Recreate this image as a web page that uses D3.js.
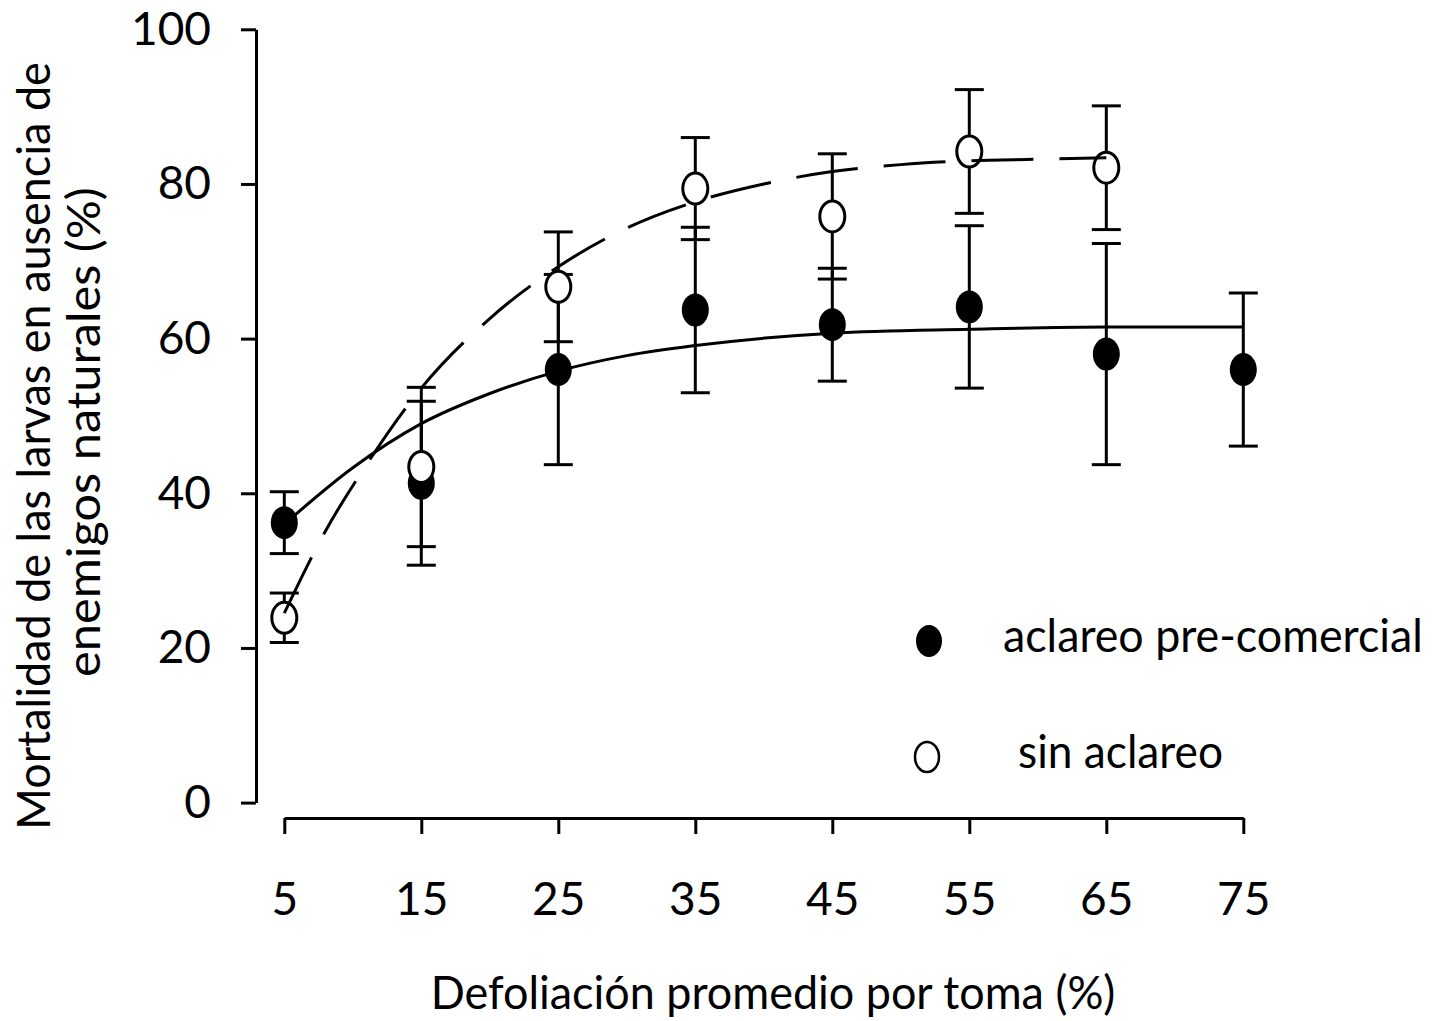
<!DOCTYPE html>
<html>
<head>
<meta charset="utf-8">
<script src="https://cdn.jsdelivr.net/npm/d3@7"></script>
<style>
  html, body { margin: 0; padding: 0; background: #fff; }
  svg { display: block; font-family: Lato, "Open Sans", sans-serif; }
  text { fill: #000; }
</style>
</head>
<body>
<svg id="chart" width="1433" height="1021"></svg>
<script>
// defoliation classes (x) and mean mortality (%) with error (±)
const xVals = [5, 15, 25, 35, 45, 55, 65, 75];
const thinnedMean = [36.2, 41.3, 56.0, 63.7, 61.8, 64.1, 58.0, 56.0];
const thinnedErr = [4.0, 10.6, 12.3, 10.7, 7.3, 10.5, 14.3, 9.9];
const unthinnedX = [5, 15, 25, 35, 45, 55, 65];
const unthinnedMean = [23.9, 43.4, 66.7, 79.4, 75.8, 84.2, 82.1];
const unthinnedErr = [3.2, 10.3, 7.1, 6.6, 8.1, 8.0, 8.0];

// fitted curves
const fitThinnedX = [5, 10, 15, 20, 25, 30, 35, 45, 55, 65, 75];
const fitThinnedY = [36.0, 43.3, 49.0, 52.9, 55.8, 57.8, 59.1, 60.7, 61.2, 61.5, 61.5];
const fitUnthinnedX = [5, 8, 11, 15, 20, 25, 30, 35, 40, 45, 50, 55, 60, 65];
const fitUnthinnedY = [24.5, 35.1, 43.7, 53.6, 62.6, 69.3, 74.3, 77.7, 80.0, 81.6, 82.5, 83.0, 83.2, 83.4];

const yTicks = [0, 20, 40, 60, 80, 100];
const legendLabels = ["aclareo pre-comercial", "sin aclareo"];

const svg = d3.select("#chart");
const x = d3.scaleLinear().domain([5, 75]).range([284.3, 1243.3]);
const y = d3.scaleLinear().domain([0, 100]).range([802.6, 29.3]);
const FS = 46, SW = 3, CAP = 14.5;

// squeeze a text horizontally to a target width (Calibri is narrower than the fallback fonts)
function fitText(sel, cx, cy, w, rot) {
  const nat = sel.node().getComputedTextLength();
  sel.attr("transform", `translate(${cx},${cy}) rotate(${rot || 0}) scale(${w / nat},1)`);
}

// y axis (left, detached from x axis)
const yAxis = d3.axisLeft(y).tickValues(yTicks).tickSize(15).tickPadding(30).tickSizeOuter(0);
const gy = svg.append("g").attr("transform", "translate(256,0)").call(yAxis);
gy.select(".domain").attr("stroke", "#000").attr("stroke-width", SW);
gy.selectAll(".tick line").attr("stroke", "#000").attr("stroke-width", SW);
gy.selectAll(".tick text").attr("font-size", FS).attr("font-family", "Lato").attr("fill", "#000");

// x axis
const xAxis = d3.axisBottom(x).tickValues(xVals).tickSize(16).tickPadding(48).tickSizeOuter(0);
const gx = svg.append("g").attr("transform", "translate(0,818)").call(xAxis);
gx.select(".domain").attr("stroke", "#000").attr("stroke-width", SW);
gx.selectAll(".tick line").attr("stroke", "#000").attr("stroke-width", SW);
gx.selectAll(".tick text").attr("font-size", FS).attr("font-family", "Lato").attr("fill", "#000");

// axis titles
fitText(svg.append("text").attr("text-anchor", "middle").attr("font-size", FS)
  .text("Defoliación promedio por toma (%)"), 773, 1009, 685);
fitText(svg.append("text").attr("text-anchor", "middle").attr("font-size", FS)
  .text("Mortalidad de las larvas en ausencia de"), 50, 446, 768, -90);
fitText(svg.append("text").attr("text-anchor", "middle").attr("font-size", FS)
  .text("enemigos naturales (%)"), 100, 432, 490, -90);

function errorBars(xs, means, errs) {
  const g = svg.append("g").attr("stroke", "#000").attr("stroke-width", SW);
  xs.forEach((xv, i) => {
    const cx = x(xv), lo = y(means[i] - errs[i]), hi = y(means[i] + errs[i]);
    g.append("line").attr("x1", cx).attr("x2", cx).attr("y1", lo).attr("y2", hi);
    g.append("line").attr("x1", cx - CAP).attr("x2", cx + CAP).attr("y1", lo).attr("y2", lo);
    g.append("line").attr("x1", cx - CAP).attr("x2", cx + CAP).attr("y1", hi).attr("y2", hi);
  });
}

errorBars(xVals, thinnedMean, thinnedErr);
svg.append("g").selectAll("ellipse").data(xVals).join("ellipse")
  .attr("cx", (d) => x(d)).attr("cy", (d, i) => y(thinnedMean[i]))
  .attr("rx", 13.5).attr("ry", 16.5).attr("fill", "#000");

errorBars(unthinnedX, unthinnedMean, unthinnedErr);
svg.append("g").selectAll("ellipse").data(unthinnedX).join("ellipse")
  .attr("cx", (d) => x(d)).attr("cy", (d, i) => y(unthinnedMean[i]))
  .attr("rx", 12.5).attr("ry", 15.5).attr("fill", "#fff").attr("stroke", "#000").attr("stroke-width", SW);

// fitted curves
const line = d3.line().x((d) => x(d[0])).y((d) => y(d[1])).curve(d3.curveMonotoneX);
svg.append("path").datum(d3.zip(fitThinnedX, fitThinnedY)).attr("d", line)
  .attr("fill", "none").attr("stroke", "#000").attr("stroke-width", SW);
svg.append("path").datum(d3.zip(fitUnthinnedX, fitUnthinnedY)).attr("d", line)
  .attr("fill", "none").attr("stroke", "#000").attr("stroke-width", SW).attr("stroke-dasharray", "62,26");

// legend
svg.append("ellipse").attr("cx", 929).attr("cy", 641).attr("rx", 13).attr("ry", 16).attr("fill", "#000");
svg.append("ellipse").attr("cx", 927).attr("cy", 757).attr("rx", 12).attr("ry", 15)
  .attr("fill", "#fff").attr("stroke", "#000").attr("stroke-width", 2.5);
fitText(svg.append("text").attr("font-size", FS).text(legendLabels[0]), 1003, 652, 420);
fitText(svg.append("text").attr("font-size", FS).text(legendLabels[1]), 1018, 768, 205);
</script>
</body>
</html>
